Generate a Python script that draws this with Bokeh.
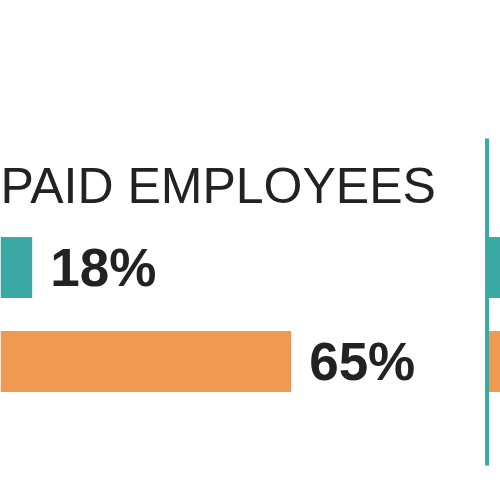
from bokeh.plotting import figure
from bokeh.models import Range1d, Label
from bokeh.embed import file_html
from bokeh.resources import INLINE
from bokeh.core.properties import value

# ---- data ----
title_text = "PAID EMPLOYEES"
categories = ["Group A", "Group B"]
left_values = [18, 65]
right_values = [35, 50]   # right panel, mostly cut off by the crop
bar_colors = ["#3AA9A4", "#EE9A52"]
labels = [f"{v}%" for v in left_values]

TEAL = "#3AA9A4"
TEXT = "#222222"

p = figure(width=500, height=500, output_backend="svg", toolbar_location=None,
           x_range=Range1d(12.25, 102.99), y_range=Range1d(2.479, -2.840),
           min_border=0, outline_line_color=None)
p.axis.visible = False
p.grid.visible = False
p.background_fill_color = "white"
p.border_fill_color = "white"

p.extra_x_ranges = {"right": Range1d(-88.29, 2.45)}

idx = list(range(len(categories)))

# left panel bars
p.hbar(y=idx, left=0, right=left_values, height=0.65, color=bar_colors, line_color=None)
# value labels
p.text(x=left_values, y=idx, text=labels, x_offset=18, y_offset=0,
       text_font=value("Liberation Sans"), text_font_style="bold",
       text_font_size="53px", text_color=TEXT, text_baseline="alphabetic")

# right panel bars (cropped)
p.hbar(y=idx, left=0, right=right_values, height=0.65, color=bar_colors,
       line_color=None, x_range_name="right")
# right panel axis line
p.segment(x0=[0], y0=[-1.372], x1=[0], y1=[2.106], line_color=TEAL, line_width=4,
          x_range_name="right")

# title
p.add_layout(Label(x=0, y=315, x_units="screen", y_units="screen", text=title_text,
                   text_font="Liberation Sans", text_font_size="50px",
                   text_color=TEXT, text_baseline="alphabetic"))

open("out.html", "w").write(file_html(p, INLINE))
